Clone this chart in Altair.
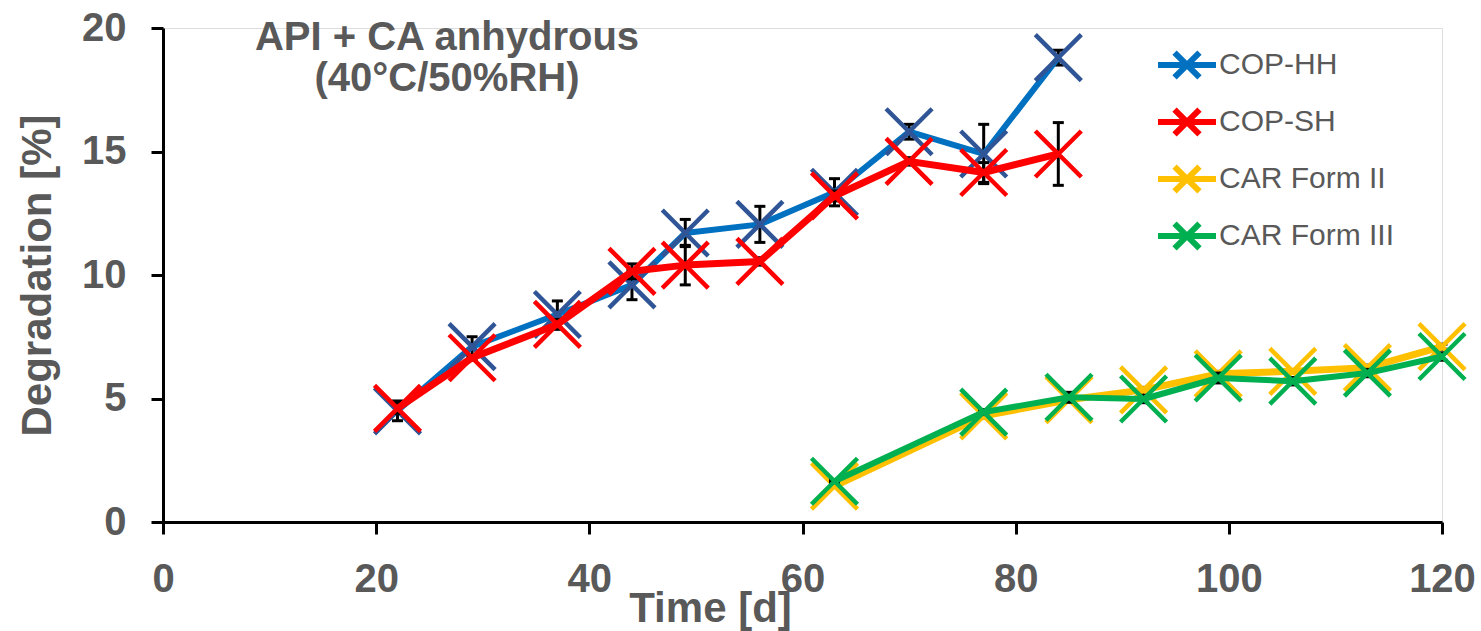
import altair as alt
import pandas as pd

# ---- data ----
days_cop = [22, 29, 37, 44, 49, 56, 63, 70, 77, 84]
cop_hh = [4.5, 7.1, 8.4, 9.6, 11.7, 12.05, 13.35, 15.8, 14.9, 18.8]
cop_hh_err = [0.4, 0.4, 0.55, 0.6, 0.55, 0.73, 0.55, 0.3, 1.2, 0.3]
cop_sh = [4.6, 6.65, 8.0, 10.15, 10.4, 10.55, 13.2, 14.6, 14.15, 14.9]
cop_sh_err = [0.2, 0.1, 0.2, 0.3, 0.8, 0.15, 0.2, 0.15, 0.4, 1.27]

days_car = [63, 77, 85, 92, 99, 106, 113, 120]
car_ii = [1.45, 4.3, 4.95, 5.35, 6.0, 6.1, 6.25, 7.1]
car_ii_err = [0.05, 0.1, 0.1, 0.1, 0.1, 0.05, 0.1, 0.1]
car_iii = [1.65, 4.45, 5.05, 4.98, 5.83, 5.7, 6.03, 6.7]
car_iii_err = [0.05, 0.1, 0.2, 0.15, 0.2, 0.15, 0.15, 0.15]

series_names = ["COP-HH", "COP-SH", "CAR Form II", "CAR Form III"]
line_colors = ["#0070C0", "#FF0000", "#FFC000", "#00B050"]
marker_colors = ["#2F5597", "#FF0000", "#FFC000", "#00B050"]
line_widths = [6, 7, 7, 6]

x_ticks = [0, 20, 40, 60, 80, 100, 120]
y_ticks = [0, 5, 10, 15, 20]
title_lines = ["API + CA anhydrous", "(40°C/50%RH)"]

# ---- table ----
rows = []
for name, days, vals, errs in [
    (series_names[0], days_cop, cop_hh, cop_hh_err),
    (series_names[1], days_cop, cop_sh, cop_sh_err),
    (series_names[2], days_car, car_ii, car_ii_err),
    (series_names[3], days_car, car_iii, car_iii_err),
]:
    for d, v, e in zip(days, vals, errs):
        rows.append({"series": name, "day": d, "value": v, "lo": v - e, "hi": v + e})
df = pd.DataFrame(rows)

FONT = "Liberation Sans"
GRAY = "#595959"
X_PATH = "M-1,-1L1,1M-1,1L1,-1"
LEGEND_PATH = "M-1,0H1M-0.43,-0.43L0.43,0.43M-0.43,0.43L0.43,-0.43"

x_scale = alt.Scale(domain=[0, 120], nice=False, zero=False)
y_scale = alt.Scale(domain=[0, 20], nice=False)

x_axis = alt.Axis(
    values=x_ticks, title="Time [d]", grid=False,
    domainColor="black", domainWidth=3, tickColor="black", tickWidth=3, tickSize=12,
    labelFont=FONT, labelFontSize=40, labelFontWeight="bold", labelColor=GRAY,
    labelPadding=25, labelFlush=False, labelOverlap=False,
    titleFont=FONT, titleFontSize=42, titleFontWeight="bold", titleColor=GRAY,
    titleX=547, titleY=66, titleBaseline="top", titleAlign="center",
)
y_axis = alt.Axis(
    values=y_ticks, title="Degradation [%]", grid=False,
    domainColor="black", domainWidth=3, tickColor="black", tickWidth=3, tickSize=12,
    labelFont=FONT, labelFontSize=40, labelFontWeight="bold", labelColor=GRAY,
    labelPadding=25, labelFlush=False, labelOverlap=False,
    titleFont=FONT, titleFontSize=42, titleFontWeight="bold", titleColor=GRAY,
    titlePadding=22,
)

def X(field="day"):
    return alt.X(f"{field}:Q", scale=x_scale, axis=x_axis)

def Y(field):
    return alt.Y(f"{field}:Q", scale=y_scale, axis=y_axis)

color = alt.Color(
    "series:N",
    scale=alt.Scale(domain=series_names, range=line_colors),
    legend=alt.Legend(
        title=None, orient="none", legendX=992, legendY=5,
        symbolType=LEGEND_PATH, symbolSize=3364, symbolStrokeWidth=6,
        symbolOpacity=1,
        labelFont=FONT, labelFontSize=30, labelColor=GRAY, labelOffset=0,
        rowPadding=0, padding=0, labelLimit=400,
    ),
)

base = alt.Chart(df)
layers = []
for name, mcol, lw in zip(series_names, marker_colors, line_widths):
    sub = base.transform_filter(alt.datum.series == name)
    layers.append(
        sub.mark_rule(color="black", strokeWidth=3).encode(x=X(), y=Y("lo"), y2="hi:Q")
    )
    layers.append(
        sub.mark_tick(orient="horizontal", color="black", size=11, thickness=3, opacity=1)
        .encode(x=X(), y=Y("lo"))
    )
    layers.append(
        sub.mark_tick(orient="horizontal", color="black", size=11, thickness=3, opacity=1)
        .encode(x=X(), y=Y("hi"))
    )
    layers.append(
        sub.mark_line(strokeWidth=lw, strokeJoin="round").encode(x=X(), y=Y("value"), color=color)
    )
    layers.append(
        sub.mark_point(shape=X_PATH, filled=False, size=2116, strokeWidth=4.5,
                       color=mcol, stroke=mcol, opacity=1).encode(x=X(), y=Y("value"))
    )

title_style = dict(font=FONT, fontSize=40, fontWeight="bold", color=GRAY,
                   align="center", baseline="middle")
title_df = pd.DataFrame({"t": title_lines[:1]})
title_df2 = pd.DataFrame({"t": title_lines[1:]})
title_1 = alt.Chart(title_df).mark_text(**title_style).encode(
    x=alt.value(284), y=alt.value(10), text="t:N")
title_2 = alt.Chart(title_df2).mark_text(**title_style).encode(
    x=alt.value(284), y=alt.value(51), text="t:N")

chart = alt.layer(*layers, title_1, title_2).properties(
    width=1279, height=494,
    autosize=alt.AutoSizeParams(type="none"),
    padding={"left": 163, "top": 28, "right": 39, "bottom": 109},
).configure_view(stroke=None).configure(background="white")

chart.save("out.html", embed_options={"renderer": "svg", "actions": False})
